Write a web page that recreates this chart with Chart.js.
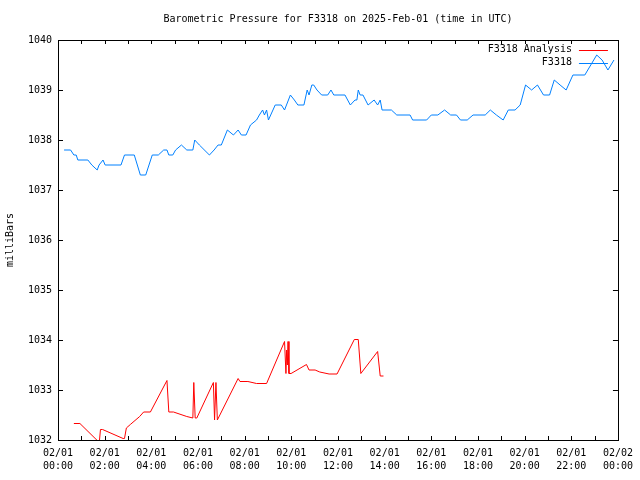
<!DOCTYPE html>
<html><head><meta charset="utf-8">
<script src="https://cdn.jsdelivr.net/npm/chart.js@4.4.1/dist/chart.umd.min.js"></script>
<style>html,body{margin:0;padding:0;background:#fff;}canvas{display:block;}</style>
</head><body>
<canvas id="c" width="640" height="480"></canvas>
<script>
const chartTitle = 'Barometric Pressure for F3318 on 2025-Feb-01 (time in UTC)';
const yAxisTitle = 'milliBars';
const seriesNames = ['F3318 Analysis', 'F3318'];
const seriesColors = ['#ff0000', '#0080ff'];

const tickHours = [0, 2, 4, 6, 8, 10, 12, 14, 16, 18, 20, 22, 24];
const tickDates = ['02/01','02/01','02/01','02/01','02/01','02/01','02/01','02/01','02/01','02/01','02/01','02/01','02/02'];
const tickTimes = ['00:00','02:00','04:00','06:00','08:00','10:00','12:00','14:00','16:00','18:00','20:00','22:00','00:00'];
const yTickValues = [1032, 1033, 1034, 1035, 1036, 1037, 1038, 1039, 1040];

// F3318 Analysis (hours UTC, mbar)
const analysisHours = [0.68,0.94,1.77,1.82,1.91,2.79,2.85,2.93,3.10,3.50,3.67,3.96,4.67,4.75,4.95,5.52,5.78,5.82,5.88,5.95,6.66,6.71,6.77,6.83,7.72,7.80,8.14,8.51,8.94,9.71,9.77,9.80,9.83,9.86,9.90,9.99,10.65,10.76,11.02,11.22,11.62,11.96,12.70,12.87,12.98,13.70,13.81,13.95];
const analysisValues = [1032.33,1032.33,1031.95,1032.21,1032.21,1032.03,1032.03,1032.24,1032.31,1032.47,1032.56,1032.56,1033.19,1032.56,1032.56,1032.47,1032.44,1033.15,1032.44,1032.44,1033.15,1032.40,1033.15,1032.40,1033.23,1033.17,1033.17,1033.13,1033.13,1033.97,1033.33,1033.80,1033.50,1033.97,1033.33,1033.33,1033.51,1033.40,1033.40,1033.36,1033.32,1033.32,1034.01,1034.01,1033.33,1033.77,1033.28,1033.28];

// F3318 observations (hours UTC, mbar)
const obsHours = [0.26,0.54,0.68,0.78,0.85,1.28,1.45,1.68,1.76,1.93,2.02,2.70,2.85,3.27,3.53,3.76,4.04,4.30,4.53,4.67,4.75,4.92,5.04,5.29,5.52,5.78,5.86,6.06,6.49,6.69,6.86,7.00,7.26,7.52,7.72,7.86,8.06,8.25,8.51,8.63,8.77,8.85,8.94,9.02,9.31,9.57,9.71,9.96,10.13,10.28,10.54,10.68,10.76,10.88,10.96,11.10,11.30,11.56,11.70,11.82,12.30,12.53,12.73,12.81,12.87,12.95,13.07,13.29,13.55,13.70,13.81,13.89,14.29,14.52,15.09,15.20,15.80,16.00,16.28,16.57,16.83,17.08,17.25,17.54,17.79,18.31,18.53,18.79,19.08,19.30,19.59,19.81,20.04,20.30,20.55,20.81,21.07,21.27,21.52,21.78,22.07,22.58,23.09,23.32,23.57,23.83];
const obsValues = [1037.8,1037.8,1037.7,1037.7,1037.6,1037.6,1037.5,1037.4,1037.5,1037.6,1037.5,1037.5,1037.7,1037.7,1037.3,1037.3,1037.7,1037.7,1037.8,1037.8,1037.7,1037.7,1037.8,1037.9,1037.8,1037.8,1038.0,1037.9,1037.7,1037.8,1037.9,1037.9,1038.2,1038.1,1038.2,1038.1,1038.1,1038.3,1038.4,1038.5,1038.6,1038.5,1038.6,1038.4,1038.7,1038.7,1038.6,1038.9,1038.8,1038.7,1038.7,1039.0,1038.9,1039.1,1039.1,1039.0,1038.9,1038.9,1039.0,1038.9,1038.9,1038.7,1038.8,1038.8,1039.0,1038.9,1038.9,1038.7,1038.8,1038.7,1038.8,1038.6,1038.6,1038.5,1038.5,1038.4,1038.4,1038.5,1038.5,1038.6,1038.5,1038.5,1038.4,1038.4,1038.5,1038.5,1038.6,1038.5,1038.4,1038.6,1038.6,1038.7,1039.1,1039.0,1039.1,1038.9,1038.9,1039.2,1039.1,1039.0,1039.3,1039.3,1039.7,1039.6,1039.4,1039.6];

const FONT = '"DejaVu Sans Mono", "Liberation Mono", monospace';
Chart.defaults.color = '#000';
Chart.defaults.font.family = FONT;
Chart.defaults.font.size = 10;

const toPts = (xs, ys) => xs.map((h, i) => ({x: h, y: ys[i]}));

const framePlugin = {
  id: 'frame',
  afterDatasetsDraw(chart) {
    const {ctx, chartArea: a, scales: {x, y}} = chart;
    ctx.save();
    ctx.strokeStyle = '#000';
    ctx.lineWidth = 1;
    ctx.beginPath();
    x.ticks.forEach(t => {
      const px = Math.round(x.getPixelForValue(t.value)) + 0.5;
      ctx.moveTo(px, a.bottom); ctx.lineTo(px, a.bottom - 4);
      ctx.moveTo(px, a.top); ctx.lineTo(px, a.top + 4);
    });
    y.ticks.forEach(t => {
      const py = Math.round(y.getPixelForValue(t.value)) + 0.5;
      ctx.moveTo(a.left, py); ctx.lineTo(a.left + 5, py);
      ctx.moveTo(a.right, py); ctx.lineTo(a.right - 5, py);
    });
    ctx.stroke();
    ctx.strokeRect(Math.round(a.left) + 0.5, Math.round(a.top) + 0.5, Math.round(a.right - a.left), Math.round(a.bottom - a.top));
    // title centred over the plot area
    ctx.fillStyle = '#000';
    ctx.font = '10px ' + FONT;
    ctx.textAlign = 'center';
    ctx.textBaseline = 'middle';
    ctx.fillText(chartTitle, (a.left + a.right) / 2, 19);
    // legend (text right-aligned, sample line to the right)
    ctx.textAlign = 'right';
    chart.data.datasets.forEach((ds, i) => {
      const yy = a.top + 9.5 + i * 13;
      ctx.fillStyle = '#000';
      ctx.fillText(ds.label, a.right - 46, yy);
      ctx.strokeStyle = ds.borderColor;
      ctx.beginPath();
      ctx.moveTo(a.right - 39, Math.round(yy) + 0.5);
      ctx.lineTo(a.right - 10, Math.round(yy) + 0.5);
      ctx.stroke();
    });
    ctx.restore();
  }
};

new Chart(document.getElementById('c'), {
  type: 'line',
  data: {
    datasets: [
      {label: seriesNames[0], data: toPts(analysisHours, analysisValues), borderColor: seriesColors[0], borderWidth: 1, pointRadius: 0, tension: 0, fill: false},
      {label: seriesNames[1], data: toPts(obsHours, obsValues), borderColor: seriesColors[1], borderWidth: 1, pointRadius: 0, tension: 0, fill: false}
    ]
  },
  options: {
    responsive: false,
    animation: false,
    events: [],
    layout: {padding: {top: 40, right: 20, left: 0, bottom: 0}},
    plugins: {legend: {display: false}, title: {display: false}, tooltip: {enabled: false}},
    scales: {
      x: {
        type: 'linear', min: 0, max: 24,
        grid: {display: false, drawTicks: false},
        border: {display: false},
        afterFit: s => { s.height = 40; },
        ticks: {
          stepSize: 1, autoSkip: false, maxRotation: 0, minRotation: 0, padding: 7,
          font: {size: 10, lineHeight: 1.3},
          callback: v => { const i = tickHours.indexOf(v); return i >= 0 ? [tickDates[i], tickTimes[i]] : ''; }
        }
      },
      y: {
        type: 'linear', min: 1032, max: 1040,
        grid: {display: false, drawTicks: false},
        border: {display: false},
        afterFit: s => { s.width = 58; },
        title: {display: true, text: yAxisTitle, padding: {top: 4, bottom: 0}, font: {size: 10}},
        ticks: {
          stepSize: 1, padding: 6, font: {size: 10},
          callback: v => yTickValues.includes(v) ? String(v) : ''
        }
      }
    }
  },
  plugins: [framePlugin]
});
</script>
</body></html>
